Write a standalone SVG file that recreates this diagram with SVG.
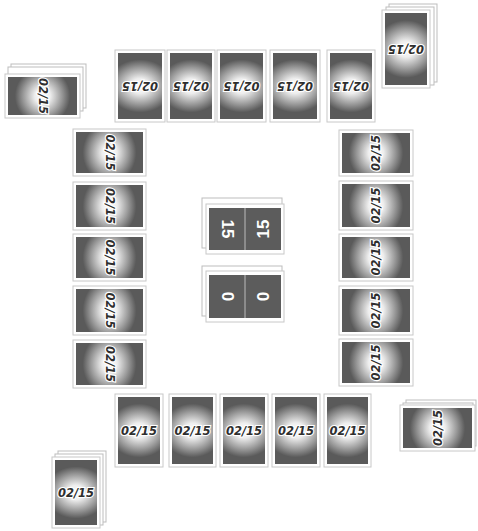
<svg xmlns="http://www.w3.org/2000/svg" width="478" height="531" viewBox="0 0 478 531">
<defs>
<radialGradient id="glowP" cx="0.5" cy="0.5" r="0.5" gradientTransform="translate(0.5,0.5) scale(1.5,0.8) translate(-0.5,-0.5)">
<stop offset="0" stop-color="#ffffff"/>
<stop offset="0.28" stop-color="#eeeeee"/>
<stop offset="0.7" stop-color="#999999"/>
<stop offset="1" stop-color="#5a5a5a"/>
</radialGradient>
<radialGradient id="glowL" cx="0.5" cy="0.5" r="0.5" gradientTransform="translate(0.5,0.5) scale(0.8,1.5) translate(-0.5,-0.5)">
<stop offset="0" stop-color="#ffffff"/>
<stop offset="0.28" stop-color="#eeeeee"/>
<stop offset="0.7" stop-color="#999999"/>
<stop offset="1" stop-color="#5a5a5a"/>
</radialGradient>
<style>
.edge{fill:#fff;stroke:#c8c8c8;stroke-width:1}
.back{fill:#fff;stroke:#bdbdbd;stroke-width:1}
.faceP{fill:url(#glowP)}
.faceL{fill:url(#glowL)}
.lbl{font-family:"DejaVu Sans",Arial,sans-serif;font-weight:bold;font-style:italic;font-size:11.5px;fill:#2e2e2e;stroke:#fff;stroke-width:2.2;paint-order:stroke;text-anchor:middle;dominant-baseline:central}
.score{fill:#5c5c5c}
.num{font-family:"Liberation Sans",Arial,sans-serif;font-weight:bold;font-size:17px;fill:#fff;text-anchor:middle;dominant-baseline:central}
</style>
</defs>
<rect width="478" height="531" fill="#fff"/>

<!-- top row -->
<g id="top-cards">
<g id="t1"><rect class="edge" x="115" y="50" width="50" height="72"/><rect class="faceP" x="118" y="53" width="44" height="66"/><text class="lbl" transform="translate(140,86) rotate(180)">02/15</text></g>
<g id="t2"><rect class="edge" x="167" y="50" width="48" height="72"/><rect class="faceP" x="170" y="53" width="42" height="66"/><text class="lbl" transform="translate(191,86) rotate(180)">02/15</text></g>
<g id="t3"><rect class="edge" x="217" y="50" width="49" height="72"/><rect class="faceP" x="220" y="53" width="43" height="66"/><text class="lbl" transform="translate(241.5,86) rotate(180)">02/15</text></g>
<g id="t4"><rect class="edge" x="270" y="50" width="50" height="72"/><rect class="faceP" x="273" y="53" width="44" height="66"/><text class="lbl" transform="translate(295,86) rotate(180)">02/15</text></g>
<g id="t5"><rect class="edge" x="327" y="50" width="48" height="72"/><rect class="faceP" x="330" y="53" width="42" height="66"/><text class="lbl" transform="translate(351,86) rotate(180)">02/15</text></g>
</g>

<!-- bottom row -->
<g id="bottom-cards">
<g id="b1"><rect class="edge" x="115" y="394" width="48" height="73"/><rect class="faceP" x="118" y="397" width="42" height="67"/><text class="lbl" transform="translate(139,430.5)">02/15</text></g>
<g id="b2"><rect class="edge" x="169" y="394" width="47" height="73"/><rect class="faceP" x="172" y="397" width="41" height="67"/><text class="lbl" transform="translate(192.5,430.5)">02/15</text></g>
<g id="b3"><rect class="edge" x="220" y="394" width="48" height="73"/><rect class="faceP" x="223" y="397" width="42" height="67"/><text class="lbl" transform="translate(244,430.5)">02/15</text></g>
<g id="b4"><rect class="edge" x="272" y="394" width="48" height="73"/><rect class="faceP" x="275" y="397" width="42" height="67"/><text class="lbl" transform="translate(296,430.5)">02/15</text></g>
<g id="b5"><rect class="edge" x="324" y="394" width="47" height="73"/><rect class="faceP" x="327" y="397" width="41" height="67"/><text class="lbl" transform="translate(347.5,430.5)">02/15</text></g>
</g>

<!-- left column -->
<g id="left-cards">
<g id="l1"><rect class="edge" x="73" y="129" width="73" height="47"/><rect class="faceL" x="76" y="132" width="67" height="41"/><text class="lbl" transform="translate(109.5,152.5) rotate(90)">02/15</text></g>
<g id="l2"><rect class="edge" x="73" y="182" width="73" height="48"/><rect class="faceL" x="76" y="185" width="67" height="42"/><text class="lbl" transform="translate(109.5,206) rotate(90)">02/15</text></g>
<g id="l3"><rect class="edge" x="73" y="234" width="73" height="47"/><rect class="faceL" x="76" y="237" width="67" height="41"/><text class="lbl" transform="translate(109.5,257.5) rotate(90)">02/15</text></g>
<g id="l4"><rect class="edge" x="73" y="286" width="73" height="49"/><rect class="faceL" x="76" y="289" width="67" height="43"/><text class="lbl" transform="translate(109.5,310.5) rotate(90)">02/15</text></g>
<g id="l5"><rect class="edge" x="73" y="340" width="73" height="48"/><rect class="faceL" x="76" y="343" width="67" height="42"/><text class="lbl" transform="translate(109.5,364) rotate(90)">02/15</text></g>
</g>

<!-- right column -->
<g id="right-cards">
<g id="r1"><rect class="edge" x="339" y="130" width="74" height="46"/><rect class="faceL" x="342" y="133" width="68" height="40"/><text class="lbl" transform="translate(376,153) rotate(-90)">02/15</text></g>
<g id="r2"><rect class="edge" x="339" y="181" width="74" height="49"/><rect class="faceL" x="342" y="184" width="68" height="43"/><text class="lbl" transform="translate(376,205.5) rotate(-90)">02/15</text></g>
<g id="r3"><rect class="edge" x="339" y="234" width="74" height="47"/><rect class="faceL" x="342" y="237" width="68" height="41"/><text class="lbl" transform="translate(376,257.5) rotate(-90)">02/15</text></g>
<g id="r4"><rect class="edge" x="339" y="286" width="74" height="49"/><rect class="faceL" x="342" y="289" width="68" height="43"/><text class="lbl" transform="translate(376,310.5) rotate(-90)">02/15</text></g>
<g id="r5"><rect class="edge" x="339" y="339" width="74" height="47"/><rect class="faceL" x="342" y="342" width="68" height="41"/><text class="lbl" transform="translate(376,362.5) rotate(-90)">02/15</text></g>
</g>

<!-- decks -->
<g id="deck-top-right">
<rect class="back" x="389" y="4" width="48" height="78"/>
<rect class="back" x="386" y="7" width="48" height="78"/>
<rect class="edge" x="382" y="10" width="48" height="78"/><rect class="faceP" x="385" y="13" width="42" height="72"/><text class="lbl" transform="translate(406,49) rotate(180)">02/15</text>
</g>
<g id="deck-top-left">
<rect class="back" x="11" y="64" width="75" height="44"/>
<rect class="back" x="8" y="67" width="75" height="44"/>
<rect class="edge" x="5" y="74" width="75" height="44"/><rect class="faceL" x="8" y="77" width="69" height="38"/><text class="lbl" transform="translate(42.5,96) rotate(90)">02/15</text>
</g>
<g id="deck-bottom-left">
<rect class="back" x="58" y="451" width="48" height="71"/>
<rect class="back" x="55" y="454" width="48" height="71"/>
<rect class="edge" x="52" y="457" width="48" height="71"/><rect class="faceP" x="55" y="460" width="42" height="65"/><text class="lbl" transform="translate(76,492.5)">02/15</text>
</g>
<g id="deck-bottom-right">
<rect class="back" x="406" y="400" width="70" height="46"/>
<rect class="back" x="403" y="403" width="70" height="46"/>
<rect class="edge" x="400" y="405" width="75" height="46"/><rect class="faceL" x="403" y="408" width="69" height="40"/><text class="lbl" transform="translate(437.5,428) rotate(-90)">02/15</text>
</g>

<!-- score counters -->
<g id="score-15">
<rect class="back" x="202" y="198" width="80" height="50"/>
<rect class="edge" x="206" y="204" width="78" height="50"/>
<rect class="score" x="209" y="208" width="72" height="42"/>
<line x1="245" y1="208" x2="245" y2="250" stroke="#bbb" stroke-width="1"/>
<text class="num" transform="translate(227,229) rotate(90)">15</text>
<text class="num" transform="translate(263,229) rotate(-90)">15</text>
</g>
<g id="score-0">
<rect class="back" x="202" y="266" width="80" height="50"/>
<rect class="edge" x="206" y="271" width="78" height="51"/>
<rect class="score" x="209" y="275" width="72" height="43"/>
<line x1="245" y1="275" x2="245" y2="318" stroke="#bbb" stroke-width="1"/>
<text class="num" transform="translate(227,296.5) rotate(90)">0</text>
<text class="num" transform="translate(263,296.5) rotate(-90)">0</text>
</g>
</svg>
